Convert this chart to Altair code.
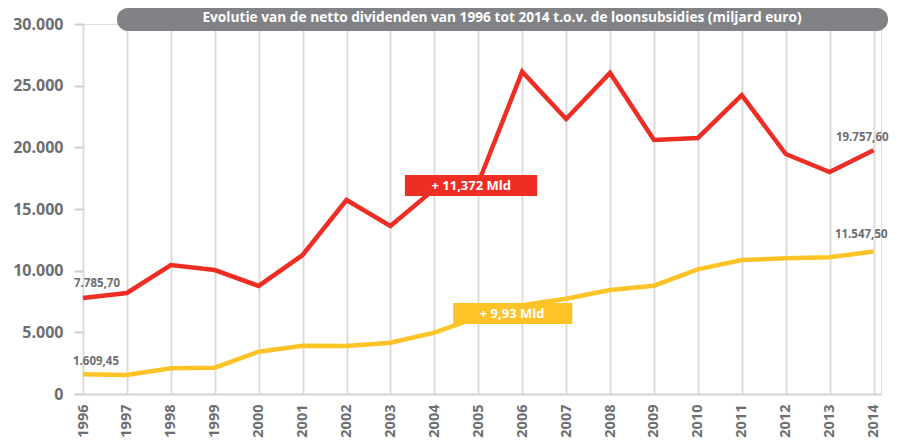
import altair as alt
import pandas as pd

years = list(range(1996, 2015))
dividenden = [7785.70, 8190, 10460, 10050, 8760, 11270, 15730, 13620, 16620, 17110,
              26130, 22300, 26030, 20600, 20760, 24240, 19460, 18000, 19757.60]
loonsubsidies = [1609.45, 1540, 2080, 2130, 3430, 3920, 3890, 4160, 4970, 6240,
                 7200, 7720, 8430, 8780, 10110, 10860, 11000, 11080, 11547.50]

series_names = ["Netto dividenden", "Loonsubsidies"]
series_colors = ["#ee2e24", "#fec326"]

end_labels = ["7.785,70", "19.757,60", "1.609,45", "11.547,50"]
end_years = [1996, 2014, 1996, 2014]
end_values = [7785.70, 19757.60, 1609.45, 11547.50]
end_align = ["center", "right", "center", "right"]
end_dx = [14, 15, 13, 14]
end_dy = [-14, -12, -12, -17]

ann_texts = ["+ 11,372 Mld", "+ 9,93 Mld"]
ann_x = [2004.84, 2005.77]
ann_y = [16905, 6527]
ann_x1 = [2003.33, 2004.43]
ann_x2 = [2006.34, 2007.14]
ann_y1 = [16054, 5676]
ann_y2 = [17757, 7378]

title_text = "Evolutie van de netto dividenden van 1996 tot 2014 t.o.v. de loonsubsidies (miljard euro)"

FONT = "Open Sans"
GRAY = "#6d6e71"

df = pd.DataFrame({
    "jaar": years * 2,
    "waarde": dividenden + loonsubsidies,
    "reeks": [series_names[0]] * len(years) + [series_names[1]] * len(years),
})
df_end = pd.DataFrame({"jaar": end_years, "waarde": end_values, "label": end_labels})
df_ann = pd.DataFrame({"tekst": ann_texts, "x": ann_x, "y": ann_y,
                       "x1": ann_x1, "x2": ann_x2, "y1": ann_y1, "y2": ann_y2,
                       "reeks": series_names})
df_one = pd.DataFrame({"t": [title_text]})

xscale = alt.Scale(domain=[1996, 2014.17], nice=False, zero=False)
yscale = alt.Scale(domain=[0, 30000], nice=False)
cscale = alt.Scale(domain=series_names, range=series_colors)

xaxis = alt.Axis(values=years, labelAngle=270, grid=True, gridColor="#dcdcdc", gridWidth=2,
                 ticks=False, domain=True, domainColor="#d4d4d4", domainWidth=2,
                 labelFont=FONT, labelFontSize=14.5, labelFontWeight="bold", labelColor=GRAY,
                 labelPadding=10, title=None, format="d", labelFlush=False)
yaxis = alt.Axis(values=[0, 5000, 10000, 15000, 20000, 25000, 30000], grid=False, domain=False,
                 ticks=True, tickSize=9, tickColor="#cfcfcf", tickWidth=2,
                 labelFont=FONT, labelFontSize=16, labelFontWeight="bold", labelColor=GRAY,
                 labelPadding=11, title=None,
                 labelExpr="replace(format(datum.value, ','), ',', '.')")

lines = alt.Chart(df).mark_line(strokeWidth=4.5, strokeJoin="miter").encode(
    x=alt.X("jaar:Q", scale=xscale, axis=xaxis),
    y=alt.Y("waarde:Q", scale=yscale, axis=yaxis),
    color=alt.Color("reeks:N", scale=cscale, legend=None),
    detail="reeks:N",
)

end_layers = []
for i in range(len(end_labels)):
    end_layers.append(
        alt.Chart(df_end.iloc[[i]]).mark_text(
            font=FONT, fontSize=11.5, fontWeight="bold", color=GRAY,
            dx=end_dx[i], dy=end_dy[i], align=end_align[i], baseline="middle"
        ).encode(x=alt.X("jaar:Q", scale=xscale), y=alt.Y("waarde:Q", scale=yscale), text="label:N")
    )

ann_rect = alt.Chart(df_ann).mark_rect().encode(
    x=alt.X("x1:Q", scale=xscale), x2="x2:Q",
    y=alt.Y("y1:Q", scale=yscale), y2="y2:Q",
    color=alt.Color("reeks:N", scale=cscale, legend=None),
)
ann_text = alt.Chart(df_ann).mark_text(
    font=FONT, fontSize=13, fontWeight="bold", color="white", align="center", baseline="middle"
).encode(x=alt.X("x:Q", scale=xscale), y=alt.Y("y:Q", scale=yscale), text="tekst:N")

title_rect = alt.Chart(df_one).mark_rect(color="#808285", cornerRadius=11).encode(
    x=alt.value(34), x2=alt.value(805), y=alt.value(-16), y2=alt.value(7)
)
title_txt = alt.Chart(df_one).mark_text(
    font=FONT, fontSize=13.7, fontWeight="bold", color="white", align="center", baseline="middle"
).encode(x=alt.value(419), y=alt.value(-6), text="t:N")

chart = alt.layer(lines, *end_layers, ann_rect, ann_text, title_rect, title_txt).properties(
    width=798, height=370,
    autosize=alt.AutoSizeParams(type="none"),
    padding={"top": 16, "left": 75, "right": 9, "bottom": 46},
).configure_view(stroke=None).configure(background="white")

chart.save("out.html", embed_options={"renderer": "svg", "actions": False})
